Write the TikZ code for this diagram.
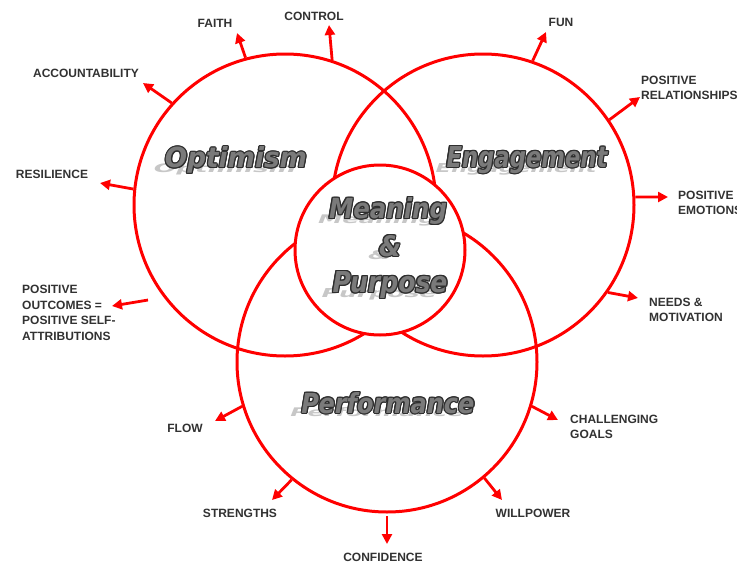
\documentclass[tikz,border=0pt]{standalone}
\usepackage{fontspec}
\usepackage{graphicx}
\setmainfont{Liberation Sans}
\newfontfamily\heavyfont{DejaVu Sans}
\usetikzlibrary{arrows.meta,calc}
\definecolor{vred}{RGB}{255,0,0}
\definecolor{lbl}{RGB}{50,50,50}
\tikzset{
  ring/.style={circle, draw=vred, line width=3pt, minimum size=#1, inner sep=0pt},
  arr/.style={draw=vred, line width=2.8pt, -{Triangle[length=10pt,width=10pt]}},
  lab/.style={text=lbl, font=\fontsize{12}{15.5}\selectfont\bfseries, inner sep=0pt, align=left},
  ttlf/.style={font=\heavyfont\fontsize{28}{30}\selectfont\bfseries\itshape, inner sep=0pt},
}
% #1 name, #2 x, #3 y, #4 width, #5 text
\newcommand\mytitle[5]{%
  \node[ttlf, text=black!22] (#1s) at ($(#2,#3)+(-11,9)$) {\resizebox{#4}{9pt}{#5}};
  \foreach \ang in {0,30,...,330}{%
    \node[ttlf, text=black!82] at ($(#2,#3)+(\ang:1.2)$) {\resizebox{#4}{21pt}{#5}};}
  \node[ttlf, text=black!52] (#1) at (#2,#3) {\resizebox{#4}{21pt}{#5}};
}
\begin{document}
\begin{tikzpicture}[x=1pt,y=-1pt]
\useasboundingbox (0,0) rectangle (737,565);
\clip (0,0) rectangle (737,565);
\fill[white] (0,0) rectangle (737,565);

% circles
\node[ring=302pt] (opt) at (285,205) {};
\node[ring=302pt] (eng) at (483,205) {};
\node[ring=300pt] (perf) at (387,362) {};
\node[ring=170pt, fill=white] (mp) at (380,250) {};

% arrow tips
\coordinate (tFaith) at (237,33);
\coordinate (tControl) at (329,25);
\coordinate (tAcc) at (143,83);
\coordinate (tRes) at (100,183);
\coordinate (sPos) at (148,300);
\coordinate (tPos) at (112,306);
\coordinate (tFun) at (546,32);
\coordinate (tRel) at (640,97);
\coordinate (tEmo) at (668,197);
\coordinate (tNeeds) at (638,298);
\coordinate (tFlow) at (215,421);
\coordinate (tStr) at (272,500);
\coordinate (sConf) at (387,516);
\coordinate (tConf) at (387,544);
\coordinate (tWill) at (502,500);
\coordinate (tChal) at (558,420);

\draw[arr] (opt.105.7) -- (tFaith);
\draw[arr] (opt.72.8) -- (tControl);
\draw[arr] (opt.138) -- (tAcc);
\draw[arr] (opt.174.6) -- (tRes);
\draw[arr] (sPos) -- (tPos);
\draw[arr] (eng.71.3) -- (tFun);
\draw[arr] (eng.34) -- (tRel);
\draw[arr] (eng.3) -- (tEmo);
\draw[arr] (eng.-35) -- (tNeeds);
\draw[arr] (perf.197.7) -- (tFlow);
\draw[arr] (perf.231.5) -- (tStr);
\draw[arr] (sConf) -- (tConf);
\draw[arr] (perf.-50.7) -- (tWill);
\draw[arr] (perf.-17.2) -- (tChal);

% titles
\mytitle{tOpt}{236}{160}{142pt}{Optimism}
\mytitle{tEng}{527}{160}{161pt}{Engagement}
\mytitle{tMea}{388}{211}{118pt}{Meaning}
\mytitle{tAmp}{390}{246}{22pt}{\&}
\mytitle{tPur}{390}{285}{115pt}{Purpose}
\mytitle{tPerf}{388}{403}{173pt}{Performance}

% labels
\node[lab] (lFaith) at (215,23) {FAITH};
\node[lab] (lControl) at (314,16) {CONTROL};
\node[lab] (lAcc) at (86,73) {ACCOUNTABILITY};
\node[lab] (lRes) at (52,174) {RESILIENCE};
\node[lab, anchor=west] (lPos) at (22,313) {POSITIVE\\OUTCOMES =\\POSITIVE SELF-\\ATTRIBUTIONS};
\node[lab] (lFun) at (561,22) {FUN};
\node[lab, anchor=west] (lRel) at (641,88) {POSITIVE\\RELATIONSHIPS};
\node[lab, anchor=west] (lEmo) at (678,203) {POSITIVE\\EMOTIONS};
\node[lab, anchor=west] (lNeeds) at (649,310) {NEEDS \&\\MOTIVATION};
\node[lab] (lFlow) at (185,428) {FLOW};
\node[lab] (lStr) at (240,513) {STRENGTHS};
\node[lab] (lConf) at (383,557) {CONFIDENCE};
\node[lab] (lWill) at (533,513) {WILLPOWER};
\node[lab, anchor=west] (lChal) at (570,427) {CHALLENGING\\GOALS};
\end{tikzpicture}
\end{document}
